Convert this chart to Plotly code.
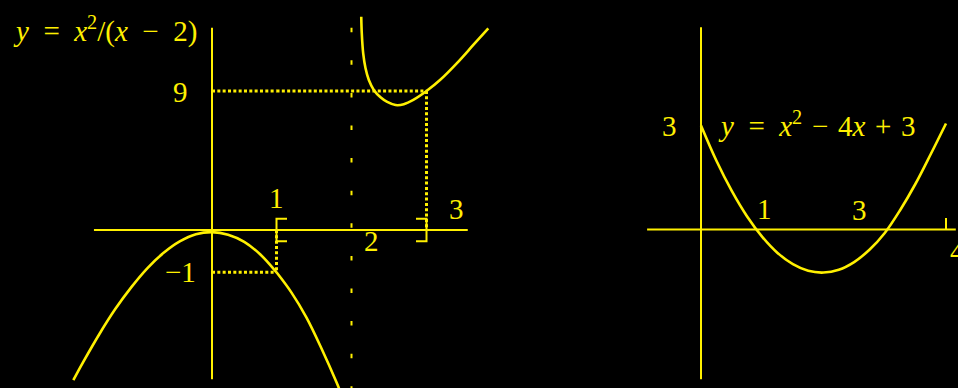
import plotly.graph_objects as go

# ---------------------------------------------------------------------------
# Data: two sketched curves with their reference values
# ---------------------------------------------------------------------------

# y = x^2/(x-2), branch left of the asymptote (sketch samples), split at x = 1
branch_a_near_x = [-2.15, -2.0, -1.75, -1.5, -1.25, -1.0, -0.75, -0.5, -0.25, 0.0, 0.25, 0.5, 0.75, 1.0]
branch_a_near_y = [-3.55, -3.13, -2.47, -1.87, -1.35, -0.90, -0.54, -0.27, -0.10, -0.05,
                   -0.11, -0.28, -0.58, -1.0]
branch_a_far_x = [1.0, 1.2, 1.4, 1.6, 1.8, 1.9]
branch_a_far_y = [-1.0, -1.48, -2.07, -2.80, -3.60, -4.04]

# y = x^2/(x-2), branch right of the asymptote (sketch samples)
branch_b_x = [2.13, 2.137, 2.156, 2.187, 2.231, 2.297, 2.387, 2.476, 2.587, 2.697,
              2.824, 3.0, 3.18, 3.403, 3.624, 3.824]
branch_b_y = [13.81, 12.74, 11.44, 10.47, 9.71, 9.07, 8.59, 8.29, 8.09, 8.14,
              8.42, 9.0, 9.71, 10.79, 11.98, 13.06]

# y = x^2 - 4x + 3 (sketch samples)
quad_x = [0.0, 0.25, 0.5, 0.75, 1.0, 1.25, 1.5, 1.75, 2.0, 2.25, 2.5, 2.75,
          3.0, 3.25, 3.5, 3.75, 4.0]
quad_y = [2.97, 1.97, 1.11, 0.38, -0.21, -0.67, -0.99, -1.18, -1.23, -1.15, -0.93, -0.58,
          -0.10, 0.55, 1.30, 2.15, 3.03]

# reference values of the left sketch
interval = [1, 3]          # [1, 3]
asymptote_x = 2
level_high = 9             # value at x = 3
level_low = -1             # value at x = 1
left_tick_text = {"1": "1", "2": "2", "3": "3", "9": "9", "-1": "\u22121"}

# reference values of the right sketch
quad_intercept = 3
quad_roots = [1, 3]
quad_end = 4

SP_REL = "\u2002"  # spacing around "="
SP_BIN = "\u2004"  # spacing around binary operators
left_title = (f"<i>y</i>{SP_REL}={SP_REL}<i>x</i><sup>2</sup>/(<i>x</i>"
              f"{SP_REL}\u2212{SP_REL}2)")
right_title = (f"<i>y</i>{SP_REL}={SP_REL}<i>x</i><sup>2</sup>{SP_BIN}\u2212{SP_BIN}"
               f"4<i>x</i>{SP_BIN}+{SP_BIN}3")

# ---------------------------------------------------------------------------
# Sketch geometry (the drawing is not to scale: separate unit sizes per part)
# ---------------------------------------------------------------------------
W, H = 958, 388
SPLIT = 600                      # pixel column separating the two sketches

L_OX, L_OY = 212.0, 230.0        # left origin (px)
L_UX_NEAR, L_UX_FAR = 64.5, 75.0  # px per unit for 0<=x<=1 and x>=1
L_UY_POS, L_UY_NEG = 15.444, 42.3  # px per unit above / below the x axis

R_OX, R_OY = 701.0, 229.5
R_UX, R_UY = 61.25, 35.0

# drawn extents of the sketch axes
L_XAXIS_FROM, L_XAXIS_TO = -1.83, 3.55
L_YAXIS_TOP, L_YAXIS_BOTTOM = 13.10, -3.53
ASYM_BOTTOM = -10.6
R_XAXIS_FROM, R_XAXIS_TO = -0.88, 4.16
R_YAXIS_TOP, R_YAXIS_BOTTOM = 5.78, -4.28

YELLOW = "#FFF000"
FONT = dict(family="Liberation Serif", size=29, color=YELLOW)
AXIS_W = 2
CURVE_W = 2.6
DOT = dict(color=YELLOW, width=3, dash="3px,2.33px")

fig = go.Figure()


def line(x, y, xa, ya, width=AXIS_W, dash=None, shape="linear"):
    fig.add_trace(go.Scatter(
        x=x, y=y, xaxis=xa, yaxis=ya, mode="lines",
        line=dict(color=YELLOW, width=width, dash=dash, shape=shape, smoothing=1.0),
        hoverinfo="skip", showlegend=False))


# --- left sketch: axes ---
line([L_XAXIS_FROM, interval[0]], [0, 0], "x", "y")
line([interval[0], L_XAXIS_TO], [0, 0], "x3", "y")
line([0, 0], [0, L_YAXIS_TOP], "x", "y")
line([0, 0], [0, L_YAXIS_BOTTOM], "x", "y3")

# --- left sketch: dotted guides ---
line([0, interval[0]], [level_high, level_high], "x", "y", width=DOT["width"], dash=DOT["dash"])
line([interval[0], interval[1]], [level_high, level_high], "x3", "y", width=DOT["width"], dash=DOT["dash"])
line([interval[1], interval[1]], [level_high, 0], "x3", "y", width=DOT["width"], dash=DOT["dash"])
line([0, interval[0]], [level_low, level_low], "x", "y3", width=DOT["width"], dash=DOT["dash"])
line([interval[0], interval[0]], [0, level_low], "x3", "y3", width=DOT["width"], dash=DOT["dash"])

# --- left sketch: asymptote x = 2 ---
line([asymptote_x, asymptote_x], [L_YAXIS_TOP, ASYM_BOTTOM], "x3", "y", width=2, dash="4.5px,28.1px")

# --- left sketch: curve branches ---
line(branch_a_near_x, branch_a_near_y, "x", "y3", width=CURVE_W, shape="spline")
line(branch_a_far_x, branch_a_far_y, "x3", "y3", width=CURVE_W, shape="spline")
line(branch_b_x, branch_b_y, "x3", "y", width=CURVE_W, shape="spline")

# --- right sketch ---
line([R_XAXIS_FROM, R_XAXIS_TO], [0, 0], "x2", "y2")
line([0, 0], [R_YAXIS_BOTTOM, R_YAXIS_TOP], "x2", "y2")
line(quad_x, quad_y, "x2", "y2", width=CURVE_W, shape="spline")

# interval brackets and end tick (pixel-sized marks anchored at data values)
BR_H, BR_W = 11.2, 10.5
shapes = [
    dict(type="path", xref="x3", yref="y", xsizemode="pixel", ysizemode="pixel",
         xanchor=interval[0], yanchor=0,
         path=f"M{BR_W},{BR_H} L0,{BR_H} L0,{-BR_H} L{BR_W},{-BR_H}",
         line=dict(color=YELLOW, width=2)),
    dict(type="path", xref="x3", yref="y", xsizemode="pixel", ysizemode="pixel",
         xanchor=interval[1], yanchor=0,
         path=f"M{-BR_W},{BR_H} L0,{BR_H} L0,{-BR_H} L{-BR_W},{-BR_H}",
         line=dict(color=YELLOW, width=2)),
    dict(type="path", xref="x2", yref="y2", xsizemode="pixel", ysizemode="pixel",
         xanchor=quad_end, yanchor=0, path="M0,0 L0,11.5",
         line=dict(color=YELLOW, width=2)),
]


def label(text, x, y, xref, yref, dx=0, dy=0, xanchor="center"):
    return dict(text=text, x=x, y=y, xref=xref, yref=yref, xshift=dx, yshift=dy,
                xanchor=xanchor, yanchor="middle", showarrow=False, font=FONT)


annotations = [
    label(left_title, 0, L_YAXIS_TOP, "x", "y", dx=-13, dy=-2, xanchor="right"),
    label(left_tick_text["9"], 0, level_high, "x", "y", dx=-32, dy=-1),
    label(left_tick_text["-1"], 0, level_low, "x", "y3", dx=-32, dy=0),
    label(left_tick_text["1"], interval[0], 0, "x3", "y", dx=0, dy=32),
    label(left_tick_text["2"], asymptote_x, 0, "x3", "y", dx=19.5, dy=-11),
    label(left_tick_text["3"], interval[1], 0, "x3", "y", dx=29.5, dy=21),
    label(str(quad_intercept), 0, quad_intercept, "x2", "y2", dx=-32, dy=-1.5),
    label(right_title, 0, quad_intercept, "x2", "y2", dx=15, dy=1, xanchor="left"),
    label(str(quad_roots[0]), quad_roots[0], 0, "x2", "y2", dx=2, dy=20.5),
    label(str(quad_roots[1]), quad_roots[1], 0, "x2", "y2", dx=-25, dy=20),
    label(str(quad_end), quad_end, 0, "x2", "y2", dx=11, dy=-21.5),
]

hidden = dict(visible=False, showgrid=False, zeroline=False, fixedrange=True)
fig.update_layout(
    width=W, height=H,
    margin=dict(l=0, r=0, t=0, b=0, pad=0),
    paper_bgcolor="black", plot_bgcolor="rgba(0,0,0,0)",
    xaxis=dict(domain=[0, SPLIT / W], range=[-L_OX / L_UX_NEAR, (SPLIT - L_OX) / L_UX_NEAR], **hidden),
    xaxis3=dict(domain=[0, SPLIT / W],
                range=[1 - (L_OX + L_UX_NEAR) / L_UX_FAR, 1 + (SPLIT - L_OX - L_UX_NEAR) / L_UX_FAR],
                anchor="y", **hidden),
    yaxis=dict(domain=[0, 1], range=[-(H - L_OY) / L_UY_POS, L_OY / L_UY_POS], **hidden),
    yaxis3=dict(domain=[0, 1], range=[-(H - L_OY) / L_UY_NEG, L_OY / L_UY_NEG], anchor="x", **hidden),
    xaxis2=dict(domain=[SPLIT / W, 1], range=[(SPLIT - R_OX) / R_UX, (W - R_OX) / R_UX], anchor="y2", **hidden),
    yaxis2=dict(domain=[0, 1], range=[-(H - R_OY) / R_UY, R_OY / R_UY], anchor="x2", **hidden),
    shapes=shapes,
    annotations=annotations,
)

fig.write_html("out.html")
